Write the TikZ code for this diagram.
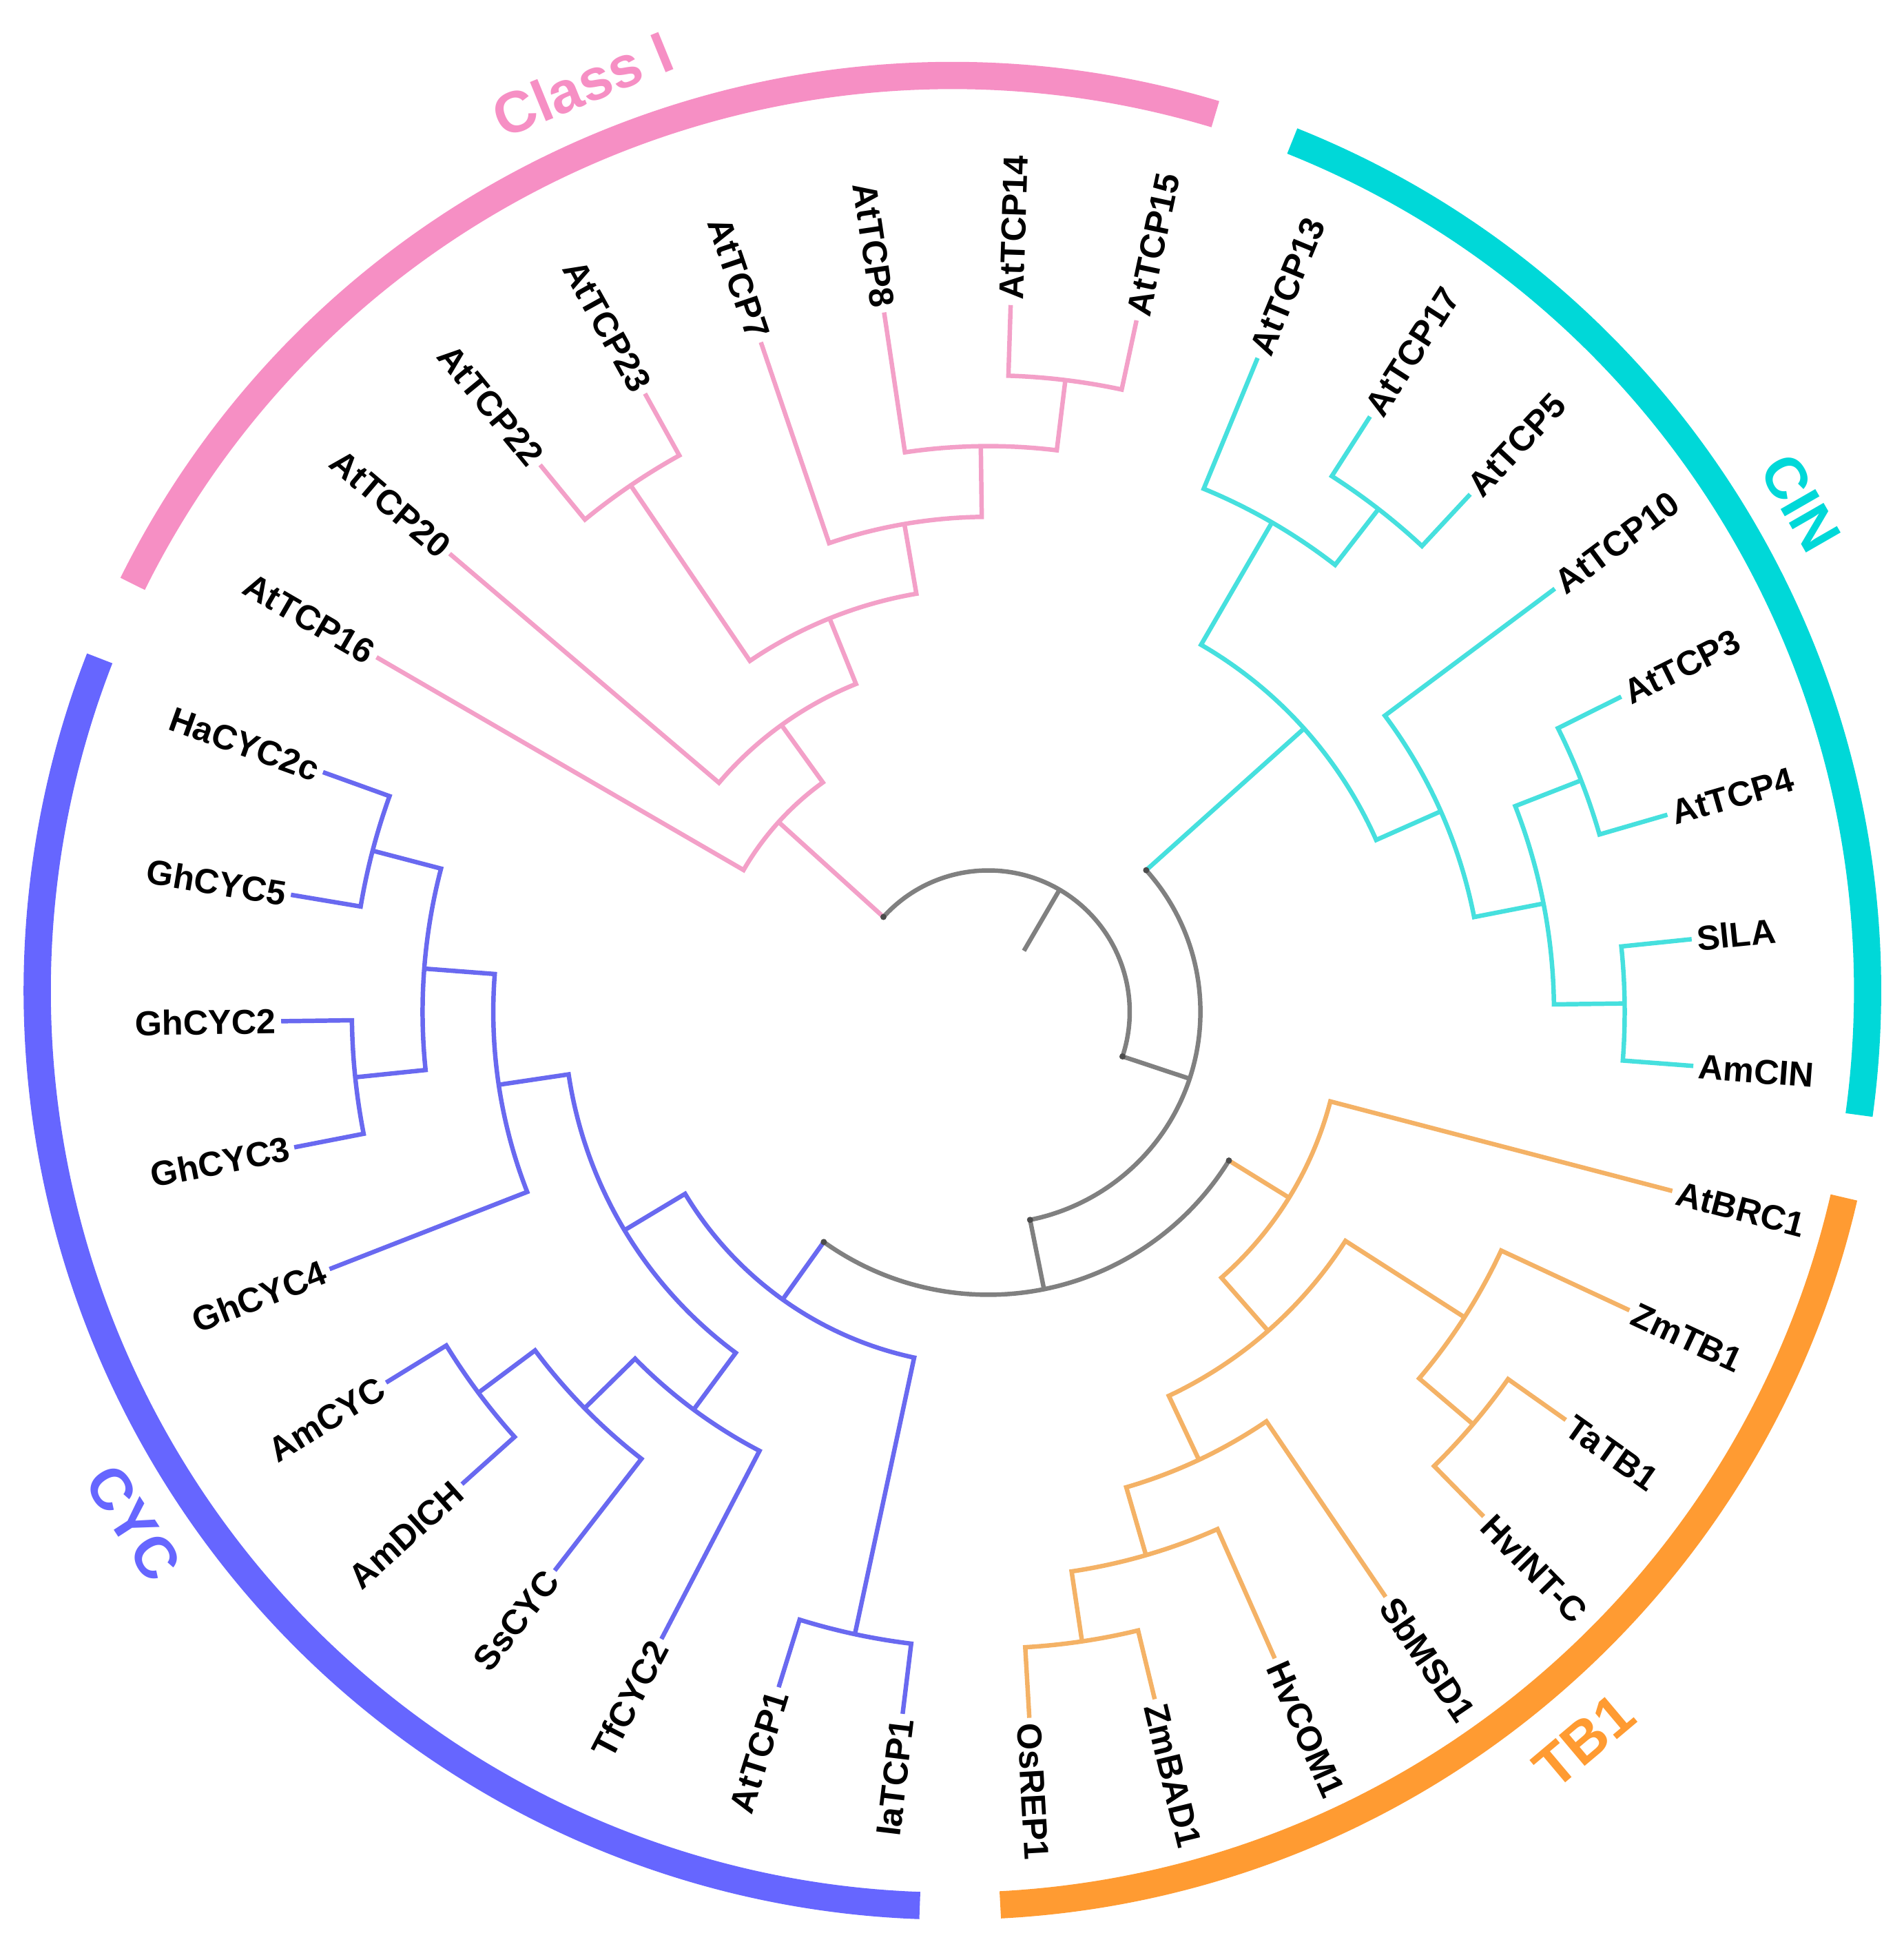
\documentclass[tikz,border=0pt]{standalone}
\usepackage{fontspec}
\setmainfont{Liberation Sans}
\definecolor{pinkband}{RGB}{246,143,196}
\definecolor{pinktree}{RGB}{243,160,200}
\definecolor{tealband}{RGB}{0,216,216}
\definecolor{tealtree}{RGB}{70,224,222}
\definecolor{orangeband}{RGB}{255,155,50}
\definecolor{orangetree}{RGB}{244,178,102}
\definecolor{blueband}{RGB}{102,102,255}
\definecolor{bluetree}{RGB}{105,105,240}
\definecolor{rootgray}{RGB}{128,128,128}
\tikzset{
  brbase/.style={line width=3.6pt, line join=miter, line cap=butt},
  pinkbr/.style={brbase, draw=pinktree},
  tealbr/.style={brbase, draw=tealtree},
  orangebr/.style={brbase, draw=orangetree},
  bluebr/.style={brbase, draw=bluetree},
  graybr/.style={brbase, draw=rootgray},
  leaflbl/.style={inner sep=0pt, font=\bfseries\fontsize{28}{30}\selectfont, text height=20pt, text depth=0pt},
  ringband/.style={line width=22pt, line cap=butt},
  bandlbl/.style={inner sep=0pt, font=\bfseries\fontsize{47}{50}\selectfont, text height=34pt, text depth=0pt},
  nodedot/.style={circle, fill=black!70, inner sep=0pt, minimum size=5pt}
}
\newcommand\leafnode[3]{%
  \coordinate (t#1) at (#2:571);%
  \pgfmathtruncatemacro\lside{cos(#2)<0}%
  \ifnum\lside=1
    \node[leaflbl, anchor=east, rotate=#2+180] (#1) at (#2:575) {#3};%
  \else
    \node[leaflbl, anchor=west, rotate=#2] (#1) at (#2:575) {#3};%
  \fi}
\newcommand\cladepath[6]{%
  \draw[#1] (#2) -- (#3:#4) arc[start angle=#3, end angle=#5, radius=#4] -- (#6);}
\begin{document}
\begin{tikzpicture}[x=1pt,y=1pt]
\useasboundingbox (-798,-751) rectangle (739,817);
% ---- leaves
\leafnode{AtTCPsixteen}{149.9}{AtTCP16}
\leafnode{AtTCPtwenty}{139.614}{AtTCP20}
\leafnode{AtTCPtwentytwo}{129.329}{AtTCP22}
\leafnode{AtTCPtwentythree}{119.043}{AtTCP23}
\leafnode{AtTCPseven}{108.757}{AtTCP7}
\leafnode{AtTCPeight}{98.471}{AtTCP8}
\leafnode{AtTCPfourteen}{88.186}{AtTCP14}
\leafnode{AtTCPfifteen}{77.9}{AtTCP15}
\leafnode{AtTCPthirteen}{67.614}{AtTCP13}
\leafnode{AtTCPseventeen}{57.329}{AtTCP17}
\leafnode{AtTCPfive}{47.043}{AtTCP5}
\leafnode{AtTCPten}{36.757}{AtTCP10}
\leafnode{AtTCPthree}{26.471}{AtTCP3}
\leafnode{AtTCPfour}{16.186}{AtTCP4}
\leafnode{SlLA}{5.9}{SlLA}
\leafnode{AmCIN}{-4.386}{AmCIN}
\leafnode{AtBRC}{-14.671}{AtBRC1}
\leafnode{ZmTB}{-24.957}{ZmTB1}
\leafnode{TaTB}{-35.243}{TaTB1}
\leafnode{HvINTC}{-45.529}{HvINT-C}
\leafnode{SbMSD}{-55.814}{SbMSD1}
\leafnode{HvCOM}{-66.1}{HvCOM1}
\leafnode{ZmBAD}{-76.386}{ZmBAD1}
\leafnode{OsREP}{-86.671}{OsREP1}
\leafnode{IaTCP}{-96.957}{IaTCP1}
\leafnode{AtTCPone}{-107.243}{AtTCP1}
\leafnode{TfCYC}{-117.529}{TfCYC2}
\leafnode{SsCYC}{-127.814}{SsCYC}
\leafnode{AmDICH}{-138.1}{AmDICH}
\leafnode{AmCYC}{-148.386}{AmCYC}
\leafnode{GhCYCfour}{-158.671}{GhCYC4}
\leafnode{GhCYCthree}{-168.957}{GhCYC3}
\leafnode{GhCYCtwo}{-179.243}{GhCYC2}
\leafnode{GhCYCfive}{-189.529}{GhCYC5}
\leafnode{HaCYC}{-199.814}{HaCYC2c}
% ---- internal nodes
\coordinate (P1) at (137.846:228.4);
\coordinate (P2) at (125.793:285.5);
\coordinate (P3) at (111.971:342.6);
\coordinate (P4) at (124.186:513.9);
\coordinate (P5) at (99.757:399.7);
\coordinate (P6) at (90.757:456.8);
\coordinate (P7) at (83.043:513.9);
\coordinate (Q1) at (41.9:342.6);
\coordinate (Q2) at (59.9:456.8);
\coordinate (Q3) at (52.186:513.9);
\coordinate (Q4) at (23.9:399.7);
\coordinate (Q5) at (11.043:456.8);
\coordinate (Q6) at (21.329:513.9);
\coordinate (Q7) at (0.757:513.9);
\coordinate (T1) at (-31.707:285.5);
\coordinate (T2) at (-48.743:342.6);
\coordinate (T3) at (-32.671:456.8);
\coordinate (T4) at (-40.386:513.9);
\coordinate (T5) at (-64.814:399.7);
\coordinate (T6) at (-73.814:456.8);
\coordinate (T7) at (-81.529:513.9);
\coordinate (C1) at (-125.564:285.5);
\coordinate (C2) at (-149.029:342.6);
\coordinate (G1) at (-171.529:399.7);
\coordinate (G2) at (-184.386:456.8);
\coordinate (G3) at (-194.671:513.9);
\coordinate (G4) at (-174.1:513.9);
\coordinate (C3) at (-126.529:399.7);
\coordinate (C4) at (-135.529:456.8);
\coordinate (C5) at (-143.243:513.9);
\coordinate (C8) at (-102.1:513.9);
\coordinate (N3) at (-78.636:228.4);
\coordinate (N2) at (-18.368:171.3);
\coordinate (R) at (59.739:114.2);
\coordinate (stub) at (59.739:57.1);
\coordinate (rootL) at (137.846:114.2);
\coordinate (rootR) at (-18.368:114.2);
\coordinate (Q1s) at (41.9:171.3);
\coordinate (N3s) at (-78.636:171.3);
\coordinate (T1s) at (-31.707:228.4);
\coordinate (C1s) at (-125.564:228.4);
% ---- Class I
\draw[pinkbr] (rootL) -- (P1);
\cladepath{pinkbr}{tAtTCPsixteen}{149.9}{228.4}{125.793}{P2}
\cladepath{pinkbr}{tAtTCPtwenty}{139.614}{285.5}{111.971}{P3}
\cladepath{pinkbr}{P4}{124.186}{342.6}{99.757}{P5}
\cladepath{pinkbr}{tAtTCPtwentytwo}{129.329}{513.9}{119.043}{tAtTCPtwentythree}
\cladepath{pinkbr}{tAtTCPseven}{108.757}{399.7}{90.757}{P6}
\cladepath{pinkbr}{tAtTCPeight}{98.471}{456.8}{83.043}{P7}
\cladepath{pinkbr}{tAtTCPfourteen}{88.186}{513.9}{77.9}{tAtTCPfifteen}
% ---- CIN
\draw[tealbr] (Q1s) -- (Q1);
\cladepath{tealbr}{Q2}{59.9}{342.6}{23.9}{Q4}
\cladepath{tealbr}{tAtTCPthirteen}{67.614}{456.8}{52.186}{Q3}
\cladepath{tealbr}{tAtTCPseventeen}{57.329}{513.9}{47.043}{tAtTCPfive}
\cladepath{tealbr}{tAtTCPten}{36.757}{399.7}{11.043}{Q5}
\cladepath{tealbr}{Q6}{21.329}{456.8}{0.757}{Q7}
\cladepath{tealbr}{tAtTCPthree}{26.471}{513.9}{16.186}{tAtTCPfour}
\cladepath{tealbr}{tSlLA}{5.9}{513.9}{-4.386}{tAmCIN}
% ---- TB1
\draw[orangebr] (T1s) -- (T1);
\cladepath{orangebr}{tAtBRC}{-14.671}{285.5}{-48.743}{T2}
\cladepath{orangebr}{T3}{-32.671}{342.6}{-64.814}{T5}
\cladepath{orangebr}{tZmTB}{-24.957}{456.8}{-40.386}{T4}
\cladepath{orangebr}{tTaTB}{-35.243}{513.9}{-45.529}{tHvINTC}
\cladepath{orangebr}{tSbMSD}{-55.814}{399.7}{-73.814}{T6}
\cladepath{orangebr}{tHvCOM}{-66.1}{456.8}{-81.529}{T7}
\cladepath{orangebr}{tZmBAD}{-76.386}{513.9}{-86.671}{tOsREP}
% ---- CYC
\draw[bluebr] (C1s) -- (C1);
\cladepath{bluebr}{C2}{-149.029}{285.5}{-102.1}{C8}
\cladepath{bluebr}{tAtTCPone}{-107.243}{513.9}{-96.957}{tIaTCP}
\cladepath{bluebr}{G1}{-171.529}{342.6}{-126.529}{C3}
\cladepath{bluebr}{G2}{-184.386}{399.7}{-158.671}{tGhCYCfour}
\cladepath{bluebr}{G3}{-194.671}{456.8}{-174.1}{G4}
\cladepath{bluebr}{tHaCYC}{-199.814}{513.9}{-189.529}{tGhCYCfive}
\cladepath{bluebr}{tGhCYCtwo}{-179.243}{513.9}{-168.957}{tGhCYCthree}
\cladepath{bluebr}{C4}{-135.529}{399.7}{-117.529}{tTfCYC}
\cladepath{bluebr}{C5}{-143.243}{456.8}{-127.814}{tSsCYC}
\cladepath{bluebr}{tAmCYC}{-148.386}{513.9}{-138.1}{tAmDICH}
% ---- backbone
\draw[graybr] (stub) -- (R);
\draw[graybr] (rootL) arc[start angle=137.846, end angle=-18.368, radius=114.2] -- (N2);
\draw[graybr] (Q1s) arc[start angle=41.9, end angle=-78.636, radius=171.3] -- (N3);
\draw[graybr] (T1s) arc[start angle=-31.707, end angle=-125.564, radius=228.4];
\foreach \p in {rootL,rootR,Q1s,N3s,T1s,C1s} \node[nodedot] at (\p) {};
% ---- ring
\begin{scope}[shift={(-29,17)}]
\draw[ringband, draw=pinkband] (153.6:739) arc[start angle=153.6, end angle=73.3, radius=739];
\draw[ringband, draw=tealband] (68.2:739) arc[start angle=68.2, end angle=-7.8, radius=739];
\draw[ringband, draw=orangeband] (-13.05:739) arc[start angle=-13.05, end angle=-87.0, radius=739];
\draw[ringband, draw=blueband] (-92.04:739) arc[start angle=-92.04, end angle=-201.3, radius=739];
\node[bandlbl, text=pinkband, rotate=22.2] (lClassI) at (112.2:791) {Class I};
\node[bandlbl, text=tealband, rotate=-60.1] (lCIN) at (29.9:791) {CIN};
\node[bandlbl, text=orangeband, rotate=40.1] (lTB) at (-49.9:791) {TB1};
\node[bandlbl, text=blueband, rotate=-57] (lCYC) at (-147:788) {CYC};
\end{scope}
\end{tikzpicture}
\end{document}
